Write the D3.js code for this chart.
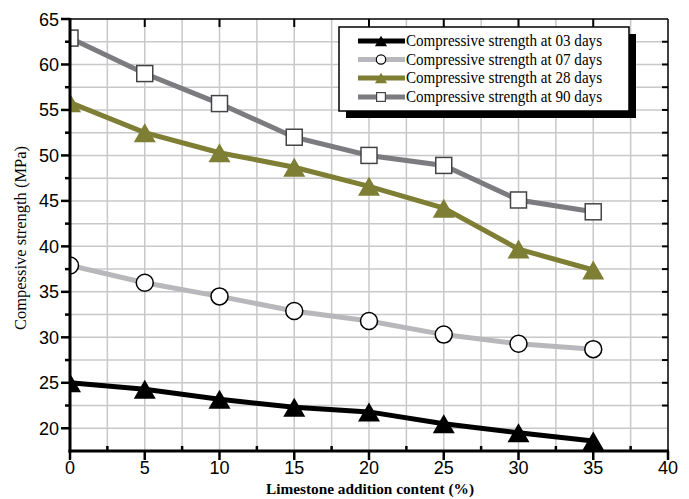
<!DOCTYPE html>
<html>
<head>
<meta charset="utf-8">
<script src="https://cdn.jsdelivr.net/npm/d3@7"></script>
<style>
  html, body { margin: 0; padding: 0; background: #fff; }
  svg { display: block; }
</style>
</head>
<body>
<svg id="chart" width="689" height="499"></svg>
<script>
const limestone = [0, 5, 10, 15, 20, 25, 30, 35];
const strength03 = [25.0, 24.3, 23.2, 22.3, 21.8, 20.5, 19.5, 18.6];
const strength07 = [37.9, 36.0, 34.5, 32.9, 31.8, 30.3, 29.3, 28.7];
const strength28 = [55.8, 52.5, 50.3, 48.7, 46.6, 44.2, 39.7, 37.4];
const strength90 = [62.9, 59.0, 55.7, 52.0, 50.0, 48.9, 45.1, 43.8];
const seriesNames = ["Compressive strength at 03 days", "Compressive strength at 07 days",
                     "Compressive strength at 28 days", "Compressive strength at 90 days"];
const xTicks = [0, 5, 10, 15, 20, 25, 30, 35, 40];
const yTicks = [20, 25, 30, 35, 40, 45, 50, 55, 60, 65];
const xTitle = "Limestone addition content (%)";
const yTitle = "Compessive strength  (MPa)";

const series = [
  { name: seriesNames[0], values: strength03, color: "#000000", marker: "triangle", fill: "#000000", stroke: "none" },
  { name: seriesNames[1], values: strength07, color: "#b8b8bc", marker: "circle", fill: "#ffffff", stroke: "#000000" },
  { name: seriesNames[2], values: strength28, color: "#7e7e34", marker: "triangle", fill: "#7e7e34", stroke: "none" },
  { name: seriesNames[3], values: strength90, color: "#7b7b80", marker: "square", fill: "#ffffff", stroke: "#444444" }
];

const L = 70, R = 668, T = 19, B = 451;
const x = d3.scaleLinear().domain([0, 40]).range([L, R]);
const y = d3.scaleLinear().domain([17.5, 65]).range([B, T]);

const svg = d3.select("#chart");

// grid
const gx = d3.range(2.5, 40, 2.5);
const gy = d3.range(20, 65, 2.5);
const grid = svg.append("g").attr("stroke", "#c8c8c8").attr("stroke-width", 1.5);
grid.selectAll("line.vx").data(gx).enter().append("line")
  .attr("x1", d => x(d)).attr("x2", d => x(d)).attr("y1", T).attr("y2", B);
grid.selectAll("line.hy").data(gy).enter().append("line")
  .attr("x1", L).attr("x2", R).attr("y1", d => y(d)).attr("y2", d => y(d));

// top and right frame with inward ticks
const frame = svg.append("g").attr("stroke", "#000").attr("stroke-width", 1.5);
frame.append("line").attr("x1", L).attr("x2", R).attr("y1", T).attr("y2", T);
frame.append("line").attr("x1", R).attr("x2", R).attr("y1", T).attr("y2", B);
frame.selectAll("line.tt").data(xTicks.slice(1, -1)).enter().append("line")
  .attr("stroke-width", 2)
  .attr("x1", d => x(d)).attr("x2", d => x(d)).attr("y1", T).attr("y2", T + 8);
frame.selectAll("line.rt").data(d3.range(22.5, 65, 2.5)).enter().append("line")
  .attr("stroke-width", 2)
  .attr("x1", R).attr("x2", R - 6).attr("y1", d => y(d)).attr("y2", d => y(d));

// series
svg.append("defs").append("clipPath").attr("id", "plotclip")
  .append("rect").attr("x", L).attr("y", T - 10).attr("width", R - L + 10).attr("height", B - T + 10);

const plot = svg.append("g").attr("clip-path", "url(#plotclip)");
const line = d3.line().x((d, i) => x(limestone[i])).y(d => y(d));

function drawMarker(g, type, cx, cy, s, fill, stroke, sw) {
  if (type === "triangle") {
    const w = 22 * s, h = 19 * s;
    g.append("path")
      .attr("d", `M${cx},${cy - h / 2}L${cx + w / 2},${cy + h / 2}L${cx - w / 2},${cy + h / 2}Z`)
      .attr("fill", fill).attr("stroke", stroke === "none" ? "none" : stroke);
  } else if (type === "circle") {
    g.append("circle").attr("cx", cx).attr("cy", cy).attr("r", 8.5 * s)
      .attr("fill", fill).attr("stroke", stroke).attr("stroke-width", sw);
  } else {
    const a = 16 * s;
    g.append("rect").attr("x", cx - a / 2).attr("y", cy - a / 2).attr("width", a).attr("height", a)
      .attr("fill", fill).attr("stroke", stroke).attr("stroke-width", sw);
  }
}

series.forEach(s => {
  plot.append("path").datum(s.values)
    .attr("d", line).attr("fill", "none")
    .attr("stroke", s.color).attr("stroke-width", 5);
  s.values.forEach((v, i) => {
    drawMarker(plot, s.marker, x(limestone[i]), y(v), 1, s.fill, s.stroke, 1.5);
  });
});

// left and bottom axes
const ax = svg.append("g").attr("stroke", "#000");
ax.append("line").attr("x1", L).attr("x2", L).attr("y1", T - 1).attr("y2", B + 1.5).attr("stroke-width", 3);
ax.append("line").attr("x1", L - 1.5).attr("x2", R + 1).attr("y1", B).attr("y2", B).attr("stroke-width", 3);
ax.selectAll("line.ly").data(yTicks).enter().append("line")
  .attr("stroke-width", 2.5).attr("x1", L - 9).attr("x2", L).attr("y1", d => y(d)).attr("y2", d => y(d));
ax.selectAll("line.lym").data(d3.range(22.5, 65, 5)).enter().append("line")
  .attr("stroke-width", 2.5).attr("x1", L - 5).attr("x2", L).attr("y1", d => y(d)).attr("y2", d => y(d));
ax.selectAll("line.bx").data(xTicks).enter().append("line")
  .attr("stroke-width", 2.5).attr("x1", d => x(d)).attr("x2", d => x(d)).attr("y1", B).attr("y2", B + 9);
ax.selectAll("line.bxm").data(d3.range(2.5, 40, 5)).enter().append("line")
  .attr("stroke-width", 2.5).attr("x1", d => x(d)).attr("x2", d => x(d)).attr("y1", B).attr("y2", B - 5);

// tick labels
const tf = "'Liberation Sans', Arial, sans-serif";
svg.append("g").selectAll("text").data(yTicks).enter().append("text")
  .attr("x", L - 11).attr("y", d => y(d) + 6.5)
  .attr("text-anchor", "end").attr("font-family", tf).attr("font-size", 18)
  .text(d => d);
svg.append("g").selectAll("text").data(xTicks).enter().append("text")
  .attr("x", d => x(d)).attr("y", B + 23)
  .attr("text-anchor", "middle").attr("font-family", tf).attr("font-size", 18)
  .text(d => d);

// axis titles
const sf = "'Liberation Serif', 'Times New Roman', serif";
svg.append("text").attr("x", 370).attr("y", 494)
  .attr("text-anchor", "middle").attr("font-family", sf).attr("font-size", 15.5).attr("font-weight", "bold")
  .attr("textLength", 208).attr("lengthAdjust", "spacingAndGlyphs")
  .text(xTitle);
svg.append("text").attr("transform", "translate(26,238) rotate(-90)")
  .attr("text-anchor", "middle").attr("font-family", sf).attr("font-size", 16.5)
  .attr("textLength", 184).attr("lengthAdjust", "spacingAndGlyphs")
  .text(yTitle);

// legend
const lg = svg.append("g");
lg.append("rect").attr("x", 346).attr("y", 34).attr("width", 290).attr("height", 84).attr("fill", "#000");
lg.append("rect").attr("x", 339).attr("y", 27).attr("width", 290).attr("height", 84)
  .attr("fill", "#fff").attr("stroke", "#000").attr("stroke-width", 1.5);
const rowY = [41, 59.5, 78, 97];
series.forEach((s, i) => {
  const yy = rowY[i];
  lg.append("line").attr("x1", 358).attr("x2", 405).attr("y1", yy).attr("y2", yy)
    .attr("stroke", s.color).attr("stroke-width", 5);
  drawMarker(lg, s.marker, 381, yy, 0.55, s.fill, s.stroke, 1.2);
  lg.append("text").attr("x", 406).attr("y", yy + 5)
    .attr("font-family", sf).attr("font-size", 16)
    .attr("textLength", 196).attr("lengthAdjust", "spacingAndGlyphs")
    .text(s.name);
});
</script>
</body>
</html>
